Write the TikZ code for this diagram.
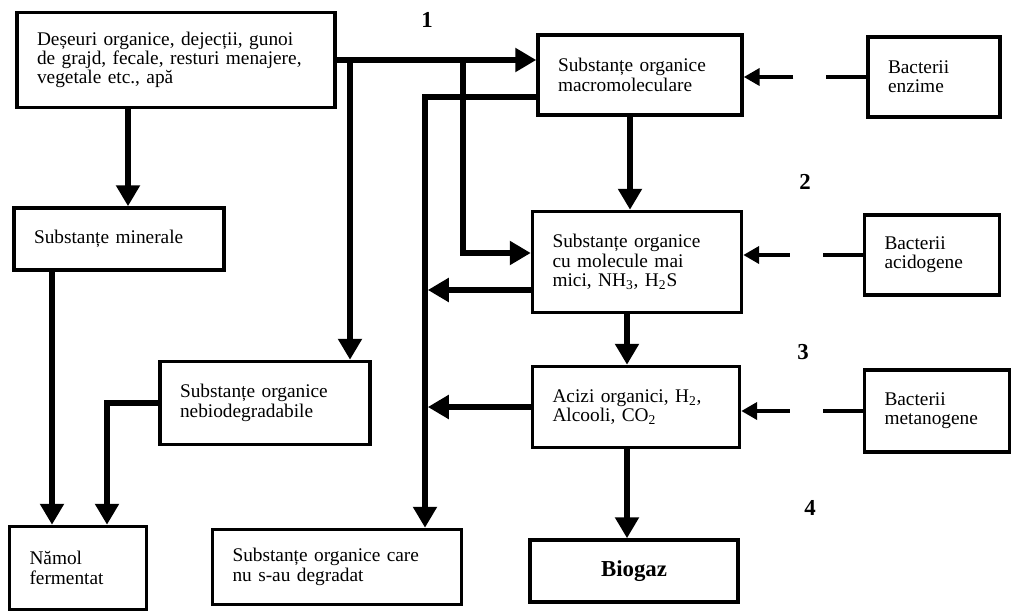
\documentclass[tikz,border=0pt]{standalone}
\usepackage{fontspec}
\setmainfont{Liberation Serif}
\usetikzlibrary{arrows.meta}
\tikzset{
  box/.style={draw, line width=2pt, align=left, inner xsep=0.4cm, inner ysep=0pt, font=\fontsize{11}{11}\selectfont},
  flow/.style={line width=3.2pt, -{Triangle[length=0.42cm, width=0.46cm]}},
  feed/.style={line width=2.6pt, dash pattern=on 0.8cm off 0.66cm on 4cm off 1pt, -{Triangle[length=0.32cm, width=0.34cm]}},
  stage/.style={font=\fontsize{13}{13}\selectfont\bfseries}
}
\begin{document}
\begin{tikzpicture}[x=0.02cm, y=-0.02cm]
            \useasboundingbox (0,0) rectangle (1013,611);
            \node[box, text width=5.56cm, minimum height=1.9cm] (waste) at (176,60) {Deșeuri organice, dejecții, gunoi\\ de grajd, fecale, resturi menajere,\\ vegetale etc., apă};
            \node[box, text width=3.28cm, minimum height=1.6cm] (macro) at (640,75) {Substanțe organice\\ macromoleculare};
            \node[box, text width=1.84cm, minimum height=1.6cm] (enz) at (934,77) {Bacterii\\ enzime};
            \node[box, text width=3.4cm, minimum height=1.24cm] (miner) at (119,239) {Substanțe minerale};
            \node[box, text width=3.38cm, minimum height=2.02cm] (small) at (637,262) {Substanțe organice\\ cu molecule mai\\ mici, NH\textsubscript{3}, H\textsubscript{2}S};
            \node[box, text width=1.9cm, minimum height=1.6cm] (acid) at (932,255) {Bacterii\\ acidogene};
            \node[box, text width=3.34cm, minimum height=1.62cm] (acizi) at (636,407) {Acizi organici, H\textsubscript{2},\\ Alcooli, CO\textsubscript{2}};
            \node[box, text width=2.1cm, minimum height=1.64cm] (meta) at (937,411) {Bacterii\\ metanogene};
            \node[box, text width=3.4cm, minimum height=1.66cm] (nebio) at (265,403) {Substanțe organice\\ nebiodegradabile};
            \node[box, text width=1.94cm, minimum height=1.66cm] (namol) at (78,568) {Nămol\\ fermentat};
            \node[box, text width=4.18cm, minimum height=1.5cm] (nedeg) at (337,567) {Substanțe organice care\\ nu s-au degradat};
            \node[box, align=center, text width=3.36cm, minimum height=1.24cm, font=\fontsize{13}{14}\selectfont\bfseries] (biogaz) at (634,571) {Biogaz};

            \node[stage] (n1) at (427,20) {1};
            \node[stage] (n2) at (805,182) {2};
            \node[stage] (n3) at (803,352) {3};
            \node[stage] (n4) at (810,508) {4};

            \coordinate (c1) at (350,0); \coordinate (c2) at (463,0); \coordinate (c3) at (425,0);
            \coordinate (c4) at (128,0); \coordinate (c5) at (52,0); \coordinate (c6) at (107,0);
            \coordinate (c7) at (630,0); \coordinate (c8) at (627,0);

            \draw[flow] (waste.east) -- (waste.east -| macro.west);
            \draw[flow] (waste.east -| c1) -- (c1 |- nebio.north);
            \draw[flow] (waste.east -| c2) |- ([yshift=0.18cm]small.west);
            \draw[flow] ([yshift=-0.44cm]macro.west) -| (c3 |- nedeg.north);
            \draw[flow, shorten >=1.6pt] ([yshift=-0.56cm]small.west) -- ([yshift=-0.56cm]small.west -| c3);
            \draw[flow, shorten >=1.6pt] (acizi.west) -- (acizi.west -| c3);
            \draw[flow] (waste.south -| c4) -- (miner.north -| c4);
            \draw[flow] (miner.south -| c5) -- (namol.north -| c5);
            \draw[flow] (nebio.west) -| (c6 |- namol.north);
            \draw[flow] (macro.south -| c7) -- (small.north -| c7);
            \draw[flow] (small.south -| c8) -- (acizi.north -| c8); \draw[flow] (acizi.south -| c8) -- (biogaz.north -| c8);

            \draw[feed] (enz.west) -- (enz.west -| macro.east);
            \draw[feed] (acid.west) -- (acid.west -| small.east);
            \draw[feed] (meta.west) -- (meta.west -| acizi.east);
        \end{tikzpicture}
\end{document}
